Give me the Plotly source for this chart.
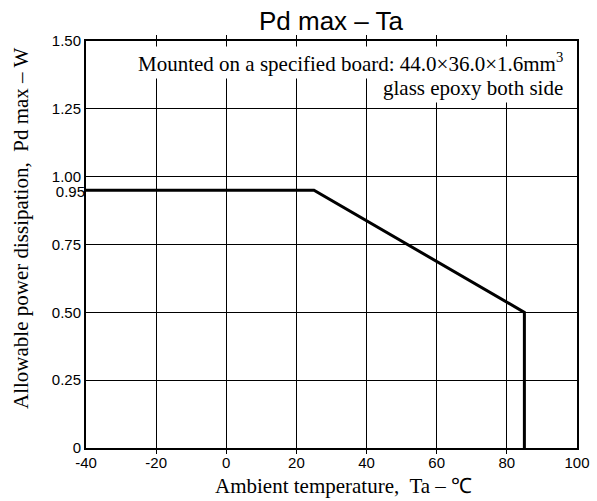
import plotly.graph_objects as go

ta = [-40, 25, 85, 85]
pd_max = [0.95, 0.95, 0.50, 0.0]

x_ticks = [-40, -20, 0, 20, 40, 60, 80, 100]
x_tick_text = ["-40", "-20", "0", "20", "40", "60", "80", "100"]
y_ticks = [0, 0.25, 0.5, 0.75, 1.0, 1.25, 1.5]
y_tick_text = ["0", "0.25", "0.50", "0.75", "1.00", "1.25", "1.50"]
y_extra = [0.95]
y_extra_text = ["0.95"]

serif = "Liberation Serif, Times New Roman, serif"
sans = "Liberation Sans, Arial, sans-serif"

L, R, T, B = 86, 20, 41, 53
W, H = 597, 501
pw, ph = W - L - R, H - T - B

def px_x(p):
    return (p - L) / pw

def px_y(p):
    return (H - B - p) / ph

fig = go.Figure()
fig.add_trace(go.Scatter(x=ta, y=pd_max, mode="lines",
                         line=dict(color="black", width=3), showlegend=False))
fig.add_trace(go.Scatter(x=[ta[0]], y=[pd_max[0]], yaxis="y2", mode="lines",
                         showlegend=False, hoverinfo="skip"))

shift = 2 * 1.5 / ph
tick_font = dict(family=sans, size=15, color="black")

fig.update_layout(
    width=W, height=H,
    paper_bgcolor="white", plot_bgcolor="white",
    margin=dict(l=L, r=R, t=T, b=B, autoexpand=False),
    title=dict(text="Pd max – Ta", xref="container", x=331 / W, xanchor="center",
               y=1 - 21 / H, yanchor="middle",
               font=dict(family=sans, size=26, color="black")),
    xaxis=dict(range=[-40, 100], tickvals=x_ticks, ticktext=x_tick_text, showgrid=True,
               gridcolor="black", gridwidth=1, showline=True, linecolor="black",
               linewidth=2, mirror="allticks", automargin=False,
               ticks="inside", ticklen=4, tickcolor="black", zeroline=False,
               tickfont=tick_font),
    yaxis=dict(range=[0, 1.5], tickvals=y_ticks, ticktext=y_tick_text, showgrid=True,
               gridcolor="black", gridwidth=1, showline=True, linecolor="black",
               linewidth=2, mirror=True, ticks="", zeroline=False, automargin=False,
               tickfont=tick_font),
    yaxis2=dict(range=[shift, 1.5 + shift], overlaying="y", side="left", tickvals=y_extra,
                ticktext=y_extra_text, showgrid=False, zeroline=False, showline=False,
                ticks="", automargin=False, tickfont=tick_font),
)

fig.add_annotation(xref="paper", yref="paper", x=px_x(343), y=px_y(486),
                   xanchor="center", yanchor="middle", showarrow=False,
                   text="Ambient temperature,  Ta – ℃",
                   font=dict(family=serif, size=21, color="black"))
fig.add_annotation(xref="paper", yref="paper", x=px_x(21), y=px_y(229),
                   xanchor="center", yanchor="middle", showarrow=False, textangle=-90,
                   text="Allowable power dissipation,  Pd max – W",
                   font=dict(family=serif, size=21, color="black"))

fig.add_annotation(xref="paper", yref="paper", x=px_x(566), y=px_y(62), xanchor="right",
                   yanchor="middle", showarrow=False, bgcolor="white", borderpad=2,
                   text="Mounted on a specified board: 44.0×36.0×1.6mm<sup>3</sup>",
                   font=dict(family=serif, size=21, color="black"))
fig.add_annotation(xref="paper", yref="paper", x=px_x(566), y=px_y(88), xanchor="right",
                   yanchor="middle", showarrow=False, bgcolor="white", borderpad=2,
                   text="glass epoxy both side",
                   font=dict(family=serif, size=21, color="black"))

fig.write_html("out.html", config={"displayModeBar": False},
               post_script="document.body.style.margin='0px';document.body.style.overflow='hidden';")
